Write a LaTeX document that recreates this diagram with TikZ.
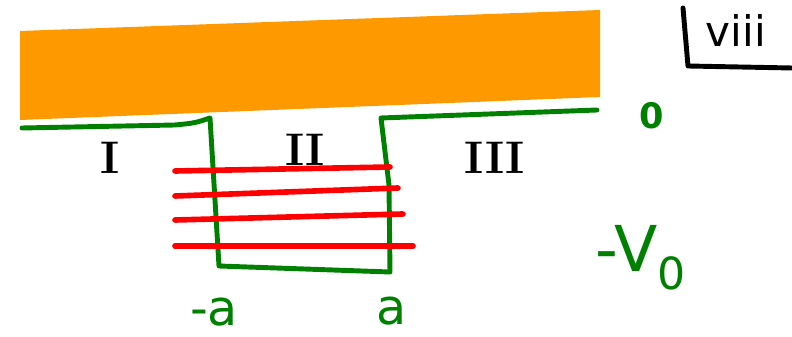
\documentclass[tikz,border=0pt]{standalone}
\usepackage{fontspec}
\setsansfont{DejaVu Sans}
\definecolor{bandorange}{RGB}{255,153,0}
\definecolor{potgreen}{RGB}{0,128,0}
\definecolor{levelred}{RGB}{255,0,0}
\begin{document}
\begin{tikzpicture}[
  x=0.02cm, y=-0.02cm,
  pot/.style={draw=potgreen,line width=2.8pt,line join=round,line cap=round},
  level/.style={draw=levelred,line width=3.2pt,line cap=round},
  region/.style={font=\fontsize{26}{26}\selectfont\bfseries},
  glabel/.style={text=potgreen,inner sep=1pt,font=\fontsize{28}{28}\selectfont\sffamily},
  tag/.style={font=\fontsize{24}{24}\selectfont\sffamily}]
\useasboundingbox (0,0) rectangle (792,337);
% band
\fill[bandorange] (20,31) -- (600,10) -- (600,97) -- (20,120) -- cycle;
% potential well
\coordinate (wellL) at (22,128);
\coordinate (kneeL) at (175,125);
\coordinate (topL) at (210,118);
\coordinate (botL) at (219,266);
\coordinate (botR) at (390,272);
\coordinate (midR) at (389,185);
\coordinate (topR) at (381,118);
\coordinate (wellR) at (597,110);
\draw[pot] (wellL) -- (kneeL) .. controls (195,123) .. (topL)
  -- (botL) -- (botR) -- (midR) -- (topR) -- (wellR);
% bound levels
\foreach \ya/\xb/\yb in {171/390/167, 196/398/188, 220/403/214, 246/413/246}
  \draw[level] (175,\ya) -- (\xb,\yb);
% regions
\node[region] (regI) at (110,158) {I};
\node[region] (regII) at (305,150) {II};
\node[region] (regIII) at (495,158) {III};
% values
\node[glabel] (zero) at (652,116) {\fontsize{20}{20}\selectfont\bfseries 0};
\node[glabel,font=\fontsize{36}{36}\selectfont\sffamily] (depth) at (641,258) {-V\textsubscript{0}};
\node[glabel] (minusa) at (214,312) {-a};
\node[glabel] (plusa) at (392,311) {a};
% page tag
\node[tag] (viii) at (736,30) {viii};
\draw[line width=2.8pt,line join=round,line cap=round]
  (683,8) -- (688,66) -- (792,68);
\end{tikzpicture}
\end{document}
